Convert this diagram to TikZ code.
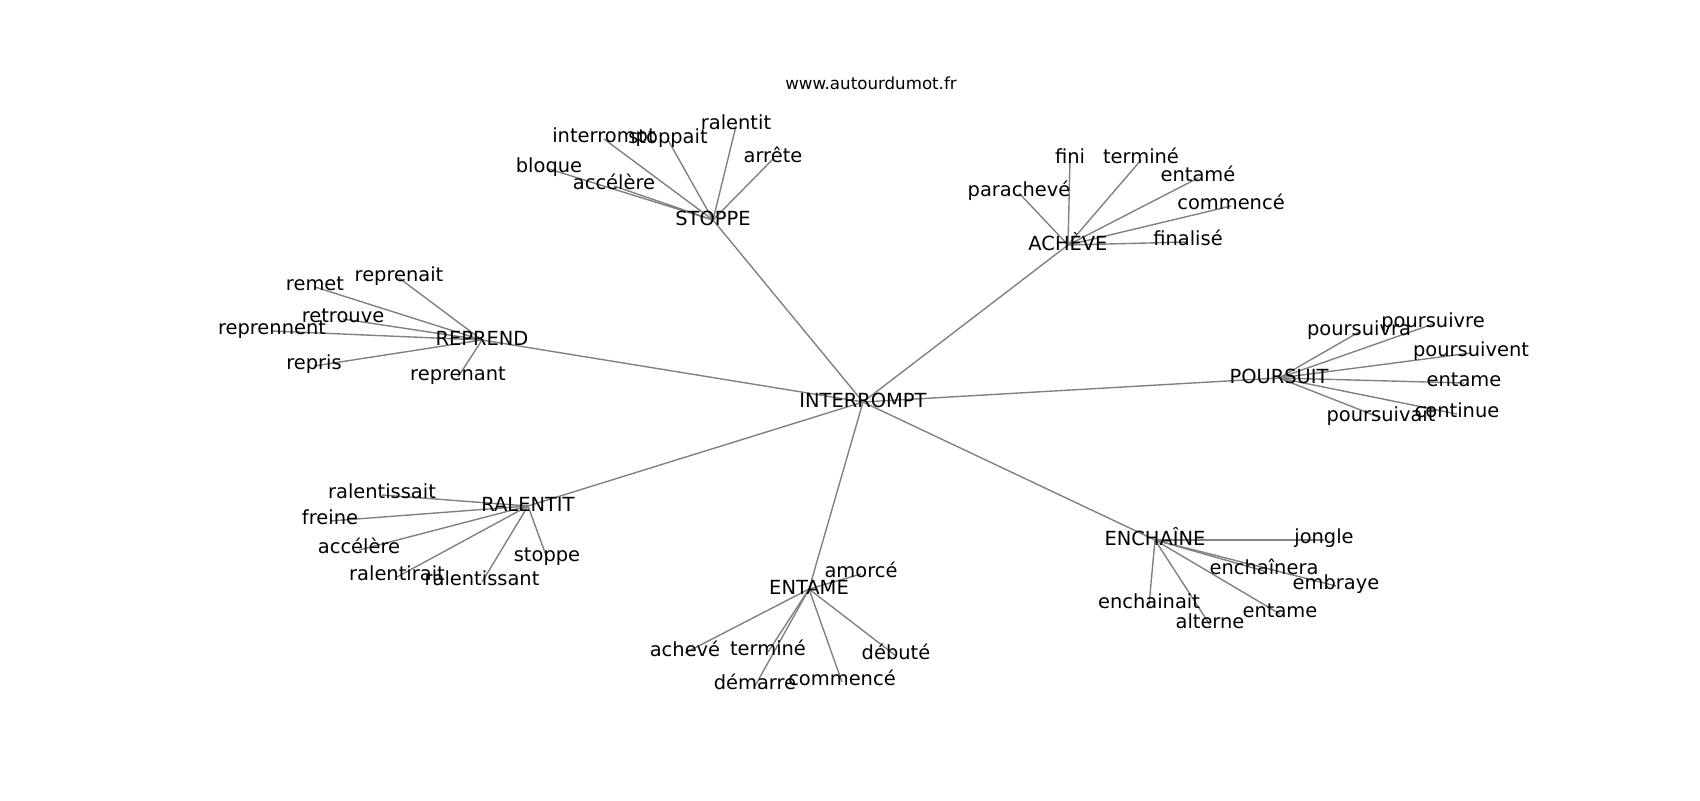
\documentclass[tikz,border=0pt]{standalone}
\usepackage{fontspec}
\setmainfont{DejaVu Sans}
\pgfdeclarelayer{bg}
\pgfsetlayers{bg,main}
\begin{document}
\begin{tikzpicture}[x=0.72pt,y=-0.72pt,
  lbl/.style={inner sep=0pt, text height=0.76em, text depth=0.24em, font=\fontsize{14}{16}\selectfont, anchor=center},
  hub/.style={lbl, text height=0.88em, text depth=0.12em},
  edge/.style={draw=gray, line width=1pt},
  titlestyle/.style={inner sep=0pt, font=\fontsize{12}{14}\selectfont}]
\useasboundingbox (0,0) rectangle (1700,800);
\node[titlestyle] (title) at (871,83) {www.autourdumot.fr};
% centre
\node[hub] (I) at (863,402) {INTERROMPT};
% STOPPE
\node[hub] (S) at (713,220) {STOPPE};
\node[lbl] (s1) at (604,139) {interrompt};
\node[lbl] (s2) at (668,140) {stoppait};
\node[lbl] (s3) at (736,126) {ralentit};
\node[lbl] (s4) at (773,159) {arrête};
\node[lbl] (s5) at (549,169) {bloque};
\node[lbl] (s6) at (614,186) {accélère};
% ACHEVE
\node[hub] (A) at (1068,245) {ACHÈVE};
\node[lbl] (a1) at (1070,160) {fini};
\node[lbl] (a2) at (1141,160) {terminé};
\node[lbl] (a3) at (1198,178) {entamé};
\node[lbl] (a4) at (1231,206) {commencé};
\node[lbl] (a5) at (1188,242) {finalisé};
\node[lbl] (a6) at (1019,193) {parachevé};
% REPREND
\node[hub] (R) at (482,340) {REPREND};
\node[lbl] (r1) at (315,287) {remet};
\node[lbl] (r2) at (399,278) {reprenait};
\node[lbl] (r3) at (343,319) {retrouve};
\node[lbl] (r4) at (272,331) {reprennent};
\node[lbl] (r5) at (314,366) {repris};
\node[lbl] (r6) at (458,377) {reprenant};
% POURSUIT
\node[hub] (P) at (1279,378) {POURSUIT};
\node[lbl] (p1) at (1359,332) {poursuivra};
\node[lbl] (p2) at (1433,324) {poursuivre};
\node[lbl] (p3) at (1471,353) {poursuivent};
\node[lbl] (p4) at (1464,383) {entame};
\node[lbl] (p5) at (1457,414) {continue};
\node[lbl] (p6) at (1381,418) {poursuivait};
% RALENTIT
\node[hub] (L) at (528,506) {RALENTIT};
\node[lbl] (l1) at (382,495) {ralentissait};
\node[lbl] (l2) at (330,521) {freine};
\node[lbl] (l3) at (359,550) {accélère};
\node[lbl] (l4) at (397,577) {ralentirait};
\node[lbl] (l5) at (482,582) {ralentissant};
\node[lbl] (l6) at (547,558) {stoppe};
% ENTAME
\node[hub] (E) at (809,589) {ENTAME};
\node[lbl] (e1) at (861,574) {amorcé};
\node[lbl] (e2) at (685,653) {achevé};
\node[lbl] (e3) at (768,652) {terminé};
\node[lbl] (e4) at (755,686) {démarre};
\node[lbl] (e5) at (842,682) {commencé};
\node[lbl] (e6) at (896,656) {débuté};
% ENCHAINE
\node[hub] (C) at (1155,540) {ENCHAÎNE};
\node[lbl] (c1) at (1324,540) {jongle};
\node[lbl] (c2) at (1264,571) {enchaînera};
\node[lbl] (c3) at (1336,586) {embraye};
\node[lbl] (c4) at (1149,605) {enchainait};
\node[lbl] (c5) at (1210,625) {alterne};
\node[lbl] (c6) at (1280,614) {entame};
\begin{pgfonlayer}{bg}
\foreach \h in {S,A,R,P,L,E,C} {\draw[edge] (I.center) -- (\h.center);}
\foreach \n in {1,...,6} {
  \draw[edge] (S.center) -- (s\n.center);
  \draw[edge] (A.center) -- (a\n.center);
  \draw[edge] (R.center) -- (r\n.center);
  \draw[edge] (P.center) -- (p\n.center);
  \draw[edge] (L.center) -- (l\n.center);
  \draw[edge] (E.center) -- (e\n.center);
  \draw[edge] (C.center) -- (c\n.center);
}
\end{pgfonlayer}
\end{tikzpicture}
\end{document}
